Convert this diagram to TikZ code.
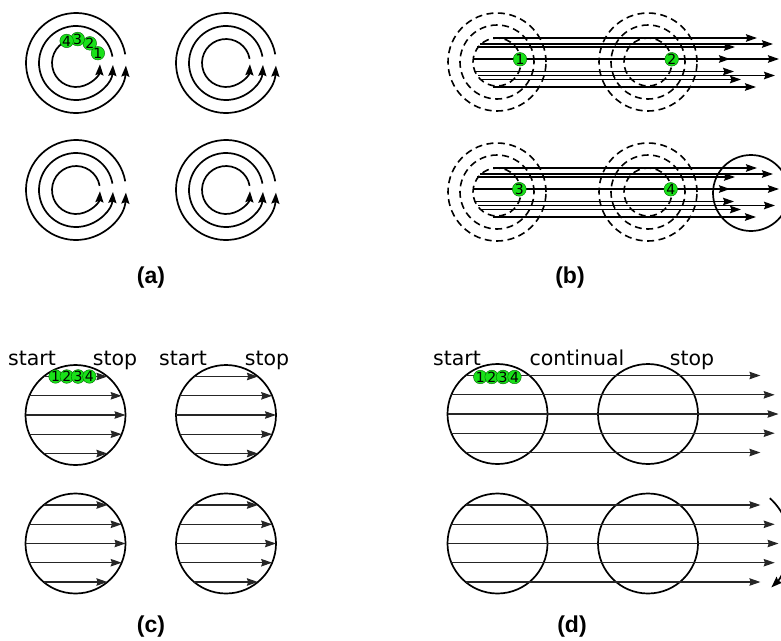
\documentclass[tikz,border=0pt]{standalone}
\usepackage{fontspec}
\usetikzlibrary{arrows.meta}
\newfontfamily\wordfont{DejaVu Sans}
\newfontfamily\capfont{Liberation Sans}
\definecolor{spot}{RGB}{25,225,25}

\tikzset{
  ring/.style={line width=1.7pt},
  dashring/.style={line width=1.6pt, dash pattern=on 7pt off 4.5pt},
  turn/.style={line width=1.7pt, -{Stealth[length=11pt,width=8pt,inset=1.5pt]}},
  scan/.style={line width=1.6pt, -{Stealth[length=11pt,width=7.5pt,inset=1.5pt]}},
  chord/.style={line width=1.1pt, black!85, -{Stealth[length=11pt,width=7.5pt,inset=1.2pt]}},
  dot/.style={circle, draw=green!40!black, line width=.4pt, fill=spot, inner sep=0pt,
    minimum size=13.4pt, font=\wordfont\fontsize{14}{14}\selectfont},
  word/.style={anchor=base, inner sep=0pt, font=\wordfont\fontsize{20.5}{24}\selectfont},
  caption/.style={inner sep=0pt, font=\capfont\bfseries\fontsize{23}{26}\selectfont}
}

\begin{document}
\begin{tikzpicture}[x=1pt,y=1pt]
    \useasboundingbox (0,-640) rectangle (781,0);
    \clip (0,-640) rectangle (781,0);

    % (a) circular turns
    \foreach \cx/\cy in {76/63, 226/63, 76/190, 226/190}{
        \foreach \r in {24,37,50}{
            \draw [turn] (\cx,-\cy) ++(10:\r) arc[start angle=10, end angle=357, radius=\r];
        }
    }
    \foreach \n/\a in {1/24, 2/55, 3/86, 4/113}{
        \node [dot] (pa\n) at ([shift={(76,-63)}]\a:24) {\n};
    }
    \node [caption] (capa) at (151,-278) {(a)};

    % (b) dashed hubs and straight sweeps
    \foreach \cx/\cy in {497/62, 648/62, 497/192, 648/192}{
        \foreach \r in {24,37,49}{
            \draw [dashring] (\cx,-\cy) circle[radius=\r];
        }
    }
    \foreach \cy in {62,192}{
        \foreach \dy/\sx/\tip in {-24/493/757, -18/480/773, -15/477/735, -3/473/730,
                                  -3/473/779, 9.5/476/734, 13.5/478/775, 17.5/481/741, 25/493/756}{
            \draw [scan] (\sx,{-(\cy)-(\dy)}) -- (\tip,{-(\cy)-(\dy)});
        }
    }
    \draw [ring] (751,-193) circle[radius=38];
    \node [dot] (pb1) at (520,-59.3) {1};
    \node [dot] (pb2) at (671.7,-59.3) {2};
    \node [dot] (pb3) at (519.3,-189.3) {3};
    \node [dot] (pb4) at (670.7,-189.3) {4};
    \node [caption] (capb) at (570,-278) {(b)};

    % (c) single discs
    \foreach \cx/\cy in {75.5/415, 226/415, 75.5/543.5, 226/543.5}{
        \draw [ring] (\cx,-\cy) circle[radius=50];
        \foreach \dy in {-38.5,-19.2,0,19.2,38.5}{
            \draw [chord] ({\cx-sqrt(2500-(\dy)*(\dy))},{-(\cy)-(\dy)})
                -- ({\cx+sqrt(2500-(\dy)*(\dy))},{-(\cy)-(\dy)});
        }
    }
    \node [word] (cstarta) at (32,-365.5) {start};
    \node [word] (cstopa) at (115,-365.5) {stop};
    \node [word] (cstartb) at (183,-365.5) {start};
    \node [word] (cstopb) at (267,-365.5) {stop};
    \foreach \n/\x in {1/55.5, 2/66.8, 3/78.1, 4/89.4}{
        \node [dot] (pc\n) at (\x,-376.5) {\n};
    }
    \node [caption] (capc) at (151,-627) {(c)};

    % (d) continual sweep
    \foreach \cy in {414,543.5}{
        \draw [ring] (497.5,-\cy) circle[radius=50];
        \draw [ring] (648,-\cy) circle[radius=50];
        \foreach \dy in {-38.5,-19.2,0,19.2,38.5}{
            \draw [chord] ({497.5-sqrt(2500-(\dy)*(\dy))},{-(\cy)-(\dy)})
                -- ({728.5+sqrt(2500-(\dy)*(\dy))},{-(\cy)-(\dy)});
        }
    }
    \draw [turn] (729,-543.5) ++(48:61) arc[start angle=48, end angle=-46, radius=61];
    \node [word] (dstart) at (457,-365.5) {start};
    \node [word] (dcont) at (577,-365.5) {continual};
    \node [word] (dstop) at (692,-365.5) {stop};
    \foreach \n/\x in {1/480.3, 2/491.7, 3/503.1, 4/514.5}{
        \node [dot] (pd\n) at (\x,-377) {\n};
    }
    \node [caption] (capd) at (572,-627) {(d)};
\end{tikzpicture}
\end{document}
